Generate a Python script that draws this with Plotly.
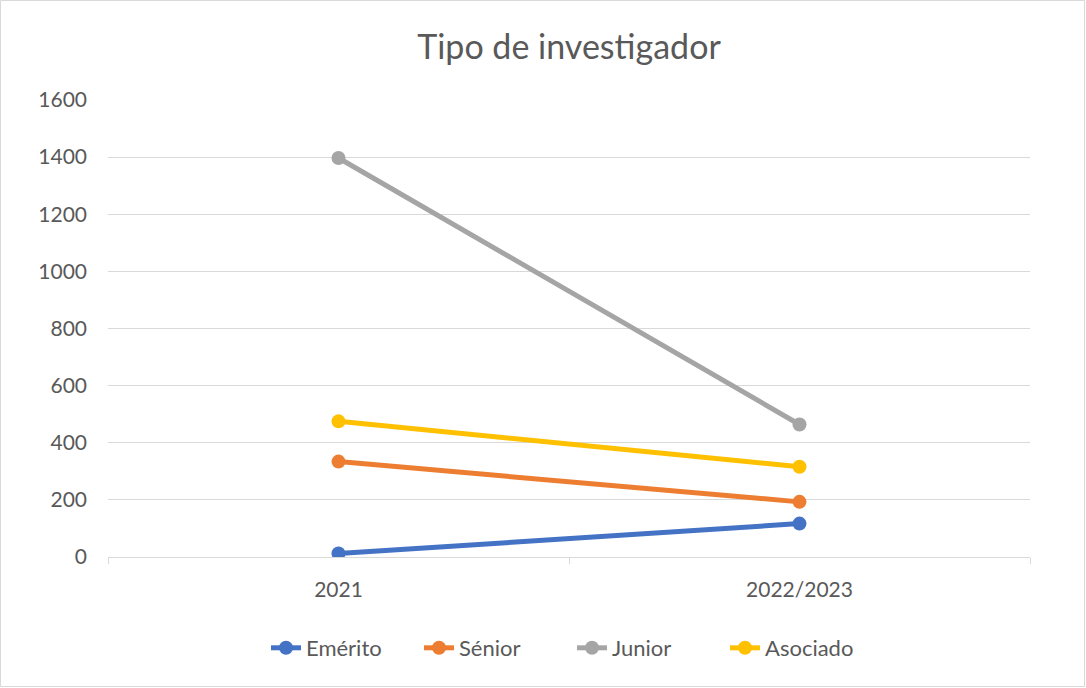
import plotly.graph_objects as go

categories = ["2021", "2022/2023"]
series_names = ["Emérito", "Sénior", "Junior", "Asociado"]
emerito = [12, 117]
senior = [334, 193]
junior = [1397, 464]
asociado = [475, 316]
colors = ["#4472C4", "#ED7D31", "#A5A5A5", "#FFC000"]
y_ticks = [0, 200, 400, 600, 800, 1000, 1200, 1400, 1600]

W, H = 1086, 688
L, R, T, B = 108, 56, 100, 131

fig = go.Figure()
for name, vals, col in zip(series_names, [emerito, senior, junior, asociado], colors):
    fig.add_trace(go.Scatter(
        x=categories, y=vals, name=name, mode="lines+markers",
        line=dict(color=col, width=5),
        marker=dict(color=col, size=14),
    ))

pw = W - L - R
ph = H - T - B
fig.add_shape(type="rect", xref="paper", yref="paper",
              x0=(0.5 - L) / pw, x1=(W - 1.5 - L) / pw,
              y0=-(H - 1.5 - T - ph) / ph, y1=1 + (T - 0.5) / ph,
              line=dict(color="#D9D9D9", width=1), fillcolor="rgba(0,0,0,0)", layer="below")

fig.update_layout(
    width=W, height=H,
    margin=dict(l=L, r=R, t=T, b=B),
    paper_bgcolor="white", plot_bgcolor="white",
    font=dict(family="Lato, Open Sans, sans-serif", color="#595959", size=21),
    title=dict(text="Tipo de investigador", x=0.5, xref="paper", xanchor="center",
               y=1 - 47 / H, yanchor="middle", font=dict(size=34, color="#595959")),
    showlegend=True,
    legend=dict(orientation="h", x=(266 - L) / pw, xanchor="left", xref="paper",
                y=-(648 - T - ph) / ph, yanchor="middle", font=dict(size=22, color="#595959"),
                entrywidth=108, entrywidthmode="pixels", traceorder="normal"),
    xaxis=dict(type="category", range=[-0.5, 1.5], showgrid=False,
               showline=True, linecolor="#D9D9D9", linewidth=1,
               ticks="outside", tickson="boundaries", ticklen=6, tickcolor="#D9D9D9",
               tickfont=dict(size=21, color="#595959"), ticklabelstandoff=14,
               fixedrange=True),
    yaxis=dict(range=[0, 1600], tickvals=y_ticks, showgrid=True, gridcolor="#D9D9D9",
               gridwidth=1, zeroline=False, showline=False, ticks="",
               tickfont=dict(size=21, color="#595959"), ticklabelstandoff=20),
)

fig.write_html("out.html", config={"displayModeBar": False},
               post_script="document.body.style.margin='0';")
